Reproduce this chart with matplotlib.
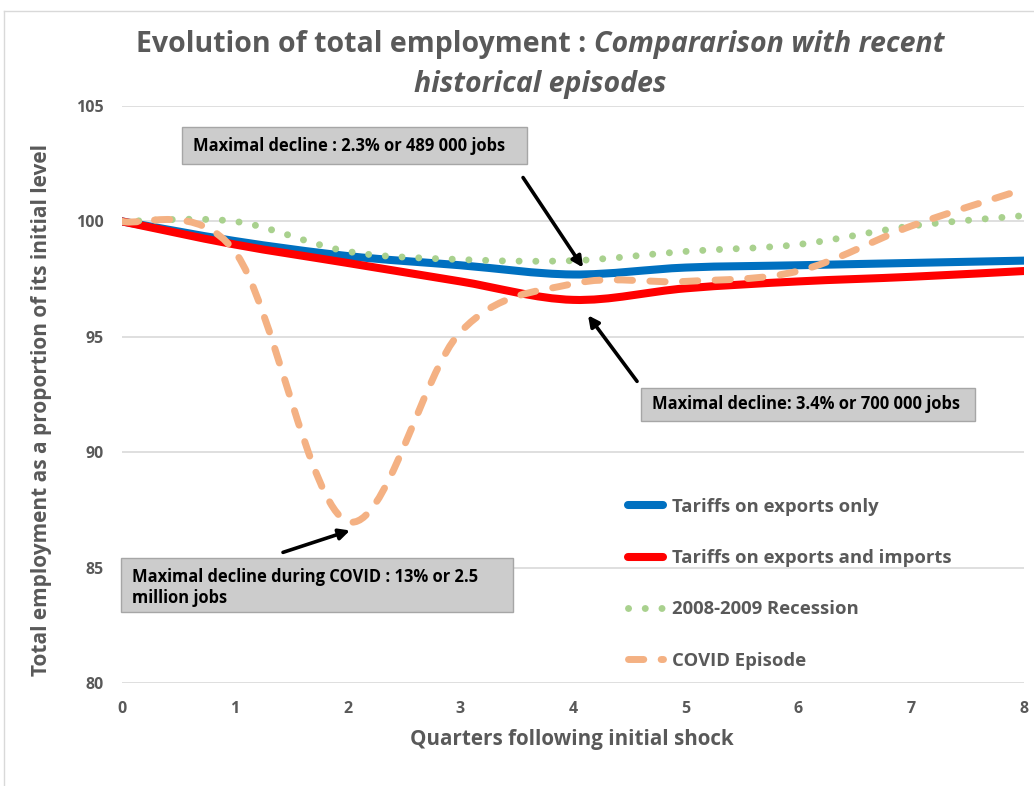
import numpy as np
import matplotlib.pyplot as plt
from matplotlib.path import Path
from matplotlib.patches import PathPatch, Rectangle
from matplotlib.lines import Line2D

plt.rcParams['font.family'] = ['Open Sans', 'DejaVu Sans']

quarters = [0, 1, 2, 3, 4, 5, 6, 7, 8]
exports_only = [100, 99.15, 98.5, 98.1, 97.7, 98.0, 98.1, 98.2, 98.3]
exports_imports = [100, 99.0, 98.2, 97.4, 96.6, 97.1, 97.4, 97.6, 97.85]
recession = [100, 100.0, 98.7, 98.35, 98.3, 98.7, 99.0, 99.8, 100.25]
covid = [100, 98.7, 87.0, 95.2, 97.3, 97.4, 97.85, 99.8, 101.4]

labels = ['Tariffs on exports only', 'Tariffs on exports and imports',
          '2008-2009 Recession', 'COVID Episode']
colors = ['#0070C0', '#FF0000', '#A9D18E', '#F4B183']

GRAY = '#595959'


def smooth_path(x, y):
    # Excel-like smoothed line: cubic bezier segments through the points
    p = np.column_stack([x, y]).astype(float)
    ext = np.vstack([p[0], p, p[-1]])
    verts = [p[0]]
    codes = [Path.MOVETO]
    for i in range(len(p) - 1):
        a, b, c, d = ext[i], ext[i + 1], ext[i + 2], ext[i + 3]
        verts += [b + (c - a) / 6, c - (d - b) / 6, c]
        codes += [Path.CURVE4] * 3
    return Path(verts, codes)


fig = plt.figure(figsize=(10.34, 7.86), dpi=100)
ax = fig.add_axes([122 / 1034, 1 - 683 / 786, 902 / 1034, 577 / 786])

styles = [
    dict(linestyle='-', lw=5.8, capstyle='round'),
    dict(linestyle='-', lw=5.8, capstyle='round'),
    dict(linestyle=(0, (0.01, 2.4)), lw=5.0, capstyle='round'),
    dict(linestyle=(0, (2.2, 2.5)), lw=5.0, capstyle='round'),
]
series = [exports_only, exports_imports, recession, covid]
handles = []
for vals, col, st, lab in zip(series, colors, styles, labels):
    patch = PathPatch(smooth_path(quarters, vals), fill=False, edgecolor=col,
                      linewidth=st['lw'], linestyle=st['linestyle'],
                      capstyle=st['capstyle'], joinstyle='round', zorder=3)
    ax.add_patch(patch)
    handles.append(Line2D([], [], color=col, lw=st['lw'],
                          linestyle=st['linestyle'],
                          dash_capstyle='round', solid_capstyle='round'))

ax.set_xlim(0, 8)
ax.set_ylim(80, 105)
ax.set_xticks(quarters)
ax.set_yticks([80, 85, 90, 95, 100, 105])
ax.grid(axis='y', color='#d9d9d9', lw=1.2)
ax.set_axisbelow(True)
for s in ax.spines.values():
    s.set_visible(False)
ax.tick_params(length=0, labelsize=11.5, labelcolor=GRAY)
ax.tick_params(axis='x', pad=13)
ax.tick_params(axis='y', pad=13)
for t in ax.get_xticklabels() + ax.get_yticklabels():
    t.set_fontweight('bold')

# annotation boxes
boxes = [
    ((0.0665, 0.8995), 0.3825, 0.0641, (0.0787, 0.9315),
     'Maximal decline : 2.3% or 489 000 jobs'),
    ((0.5754, 0.4541), 0.3703, 0.0572, (0.5876, 0.4827),
     'Maximal decline: 3.4% or 700 000 jobs'),
    ((-0.0011, 0.1231), 0.4346, 0.0935, (0.0111, 0.1655),
     'Maximal decline during COVID : 13% or 2.5\nmillion jobs'),
]
for (x0, y0), w, h, (tx, ty), txt in boxes:
    ax.add_patch(Rectangle((x0, y0), w, h, transform=ax.transAxes,
                           facecolor='#cccccc', edgecolor='#a6a6a6', lw=1,
                           zorder=5, clip_on=False))
    ax.text(tx, ty, txt, transform=ax.transAxes, ha='left', va='center',
            fontsize=11.9, fontweight='bold', color='black', zorder=6,
            linespacing=1.2)

arrows = [((3.557, 101.9), (4.089, 98.0)),
          ((4.568, 93.07), (4.133, 95.93)),
          ((1.428, 85.66), (2.022, 86.61))]
for tail, head in arrows:
    ax.annotate('', xy=head, xytext=tail,
                arrowprops=dict(arrowstyle='-|>', lw=2.6, color='black',
                                mutation_scale=16, shrinkA=0, shrinkB=0),
                zorder=6)

leg = ax.legend(handles, labels, loc='upper left', bbox_to_anchor=(0.5610, 0.321),
                frameon=False, fontsize=13.3, handlelength=1.9, handletextpad=0.49,
                labelspacing=1.8, borderpad=0, borderaxespad=0)
for t in leg.get_texts():
    t.set_color(GRAY)
    t.set_fontweight('bold')

# title, mixed bold / bold italic
t1 = fig.text(0.5, 0.943, 'Evolution of total employment : ', fontsize=20.5,
              fontweight='bold', color=GRAY, ha='left', va='center')
t2 = fig.text(0.5, 0.943, 'Compararison with recent', fontsize=20.5,
              fontweight='bold', style='italic', color=GRAY, ha='left', va='center')
fig.text(540 / 1034, 0.892, 'historical episodes', fontsize=20.5, fontweight='bold',
         style='italic', color=GRAY, ha='center', va='center')
fig.canvas.draw()
r = fig.canvas.get_renderer()
w1 = t1.get_window_extent(r).width
w2 = t2.get_window_extent(r).width
left = 540 - (w1 + w2) / 2
t1.set_x(left / 1034)
t2.set_x((left + w1) / 1034)

fig.text(42 / 1034, 1 - 410 / 786, 'Total employment as a proportion of its initial level',
         rotation=90, fontsize=15.0, fontweight='bold', color=GRAY,
         ha='center', va='center')
fig.text(572 / 1034, 1 - 739 / 786, 'Quarters following initial shock',
         fontsize=14.9, fontweight='bold', color=GRAY, ha='center', va='center')

# chart area border (top and left visible)
fig.add_artist(Line2D([4 / 1034, 4 / 1034], [0, 1 - 11 / 786], color='#d9d9d9', lw=1))
fig.add_artist(Line2D([4 / 1034, 1], [1 - 11 / 786, 1 - 11 / 786], color='#d9d9d9', lw=1))

fig.savefig('out.png', dpi=100)
